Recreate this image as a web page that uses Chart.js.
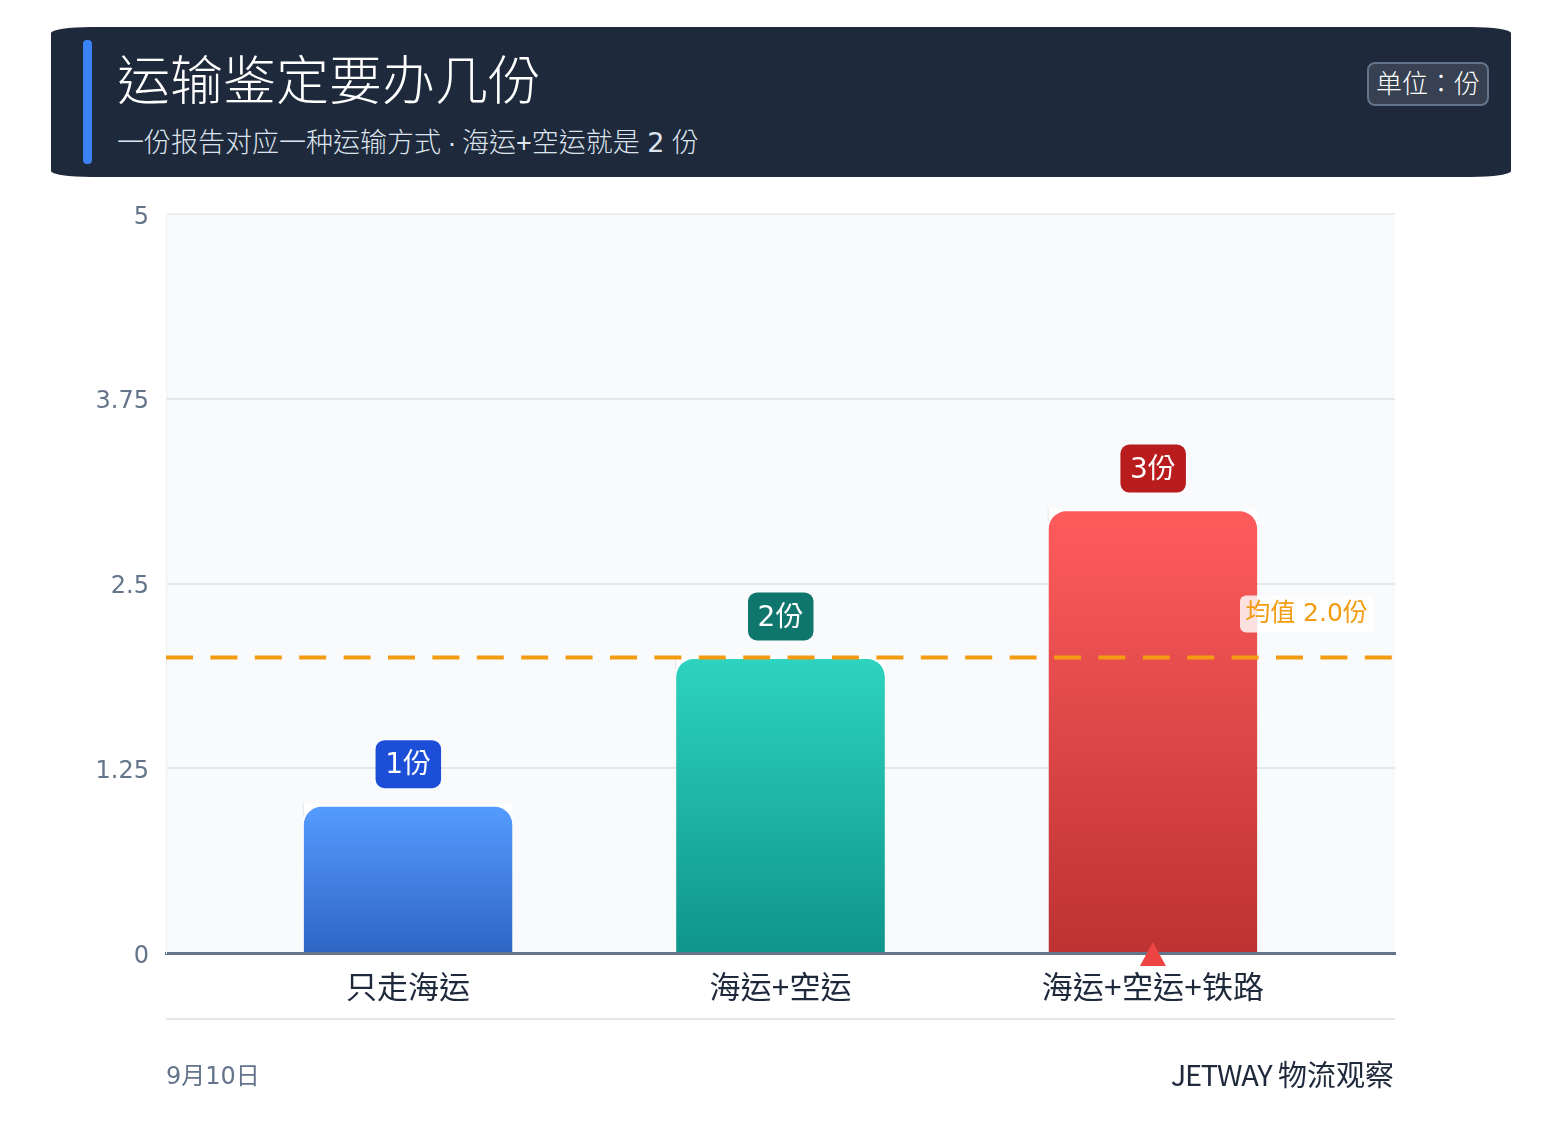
<!DOCTYPE html>
<html>
<head>
<meta charset="utf-8">
<script src="https://cdn.jsdelivr.net/npm/chart.js@4"></script>
<style>
  html, body { margin: 0; padding: 0; background: #fff; }
  body { width: 1561px; height: 1145px; position: relative; overflow: hidden;
         font-family: "Liberation Sans", "Noto Sans CJK TC", sans-serif; }
  canvas { position: absolute; left: 0; top: 0; }
  .header { position: absolute; left: 51px; top: 27px; width: 1460px; height: 150px;
            background: #1e293b; border-radius: 40px / 6px; }
  .accent { position: absolute; left: 32px; top: 13px; width: 9px; height: 124px;
            background: #3b82f6; border-radius: 4px; }
  .title { position: absolute; left: 66px; top: 17px; font-size: 53px; line-height: 76px; font-weight: 300;
           color: #fff; white-space: nowrap; }
  .subtitle { position: absolute; left: 66px; top: 97px; font-size: 27px; line-height: 38px; font-weight: 300;
              color: #dde4ee; white-space: nowrap; }
  .subtitle .sep { letter-spacing: -1px; }
  .subtitle .num { font-family: "DejaVu Sans", sans-serif; font-size: 27px; font-weight: 400; }
  .unit { position: absolute; left: 1316px; top: 35px; width: 118px; height: 40px; line-height: 40px;
          background: #374151; border: 2px solid #64748b; border-radius: 8px; font-weight: 300;
          color: #fff; font-size: 26px; text-align: center; white-space: nowrap; }
  .rule { position: absolute; left: 166px; top: 1018px; width: 1229px; height: 2px; background: #e5e7eb; }
  .date { position: absolute; left: 166px; top: 1058px; font-size: 24px; line-height: 36px; color: #64748b;
          font-family: "DejaVu Sans", "Noto Sans CJK TC", sans-serif; }
  .brand { position: absolute; right: 167px; top: 1054px; font-size: 29px; line-height: 38px; color: #1e293b;
           font-family: "Noto Sans CJK TC", sans-serif; }
  .brand span { letter-spacing: -1.2px; }
</style>
</head>
<body>
<canvas id="chart1" width="1561" height="1145"></canvas>
<div class="header">
  <div class="accent"></div>
  <div class="title">运输鉴定要办几份</div>
  <div class="subtitle">一份报告对应一种运输方式<span class="sep"> · </span>海运+空运就是 <span class="num">2</span> 份</div>
  <div class="unit">单位：份</div>
</div>
<div class="rule"></div>
<div class="date">9月10日</div>
<div class="brand"><span>JETWAY</span> 物流观察</div>
<script>
var categories = ['只走海运', '海运+空运', '海运+空运+铁路'];
var reportCounts = [1, 2, 3];
var pillLabels = ['1份', '2份', '3份'];
var yTicks = [0, 1.25, 2.5, 3.75, 5];
var meanValue = 2;
var meanLabel = '均值 2.0份';
var maxIndex = 2;

var xMin = -0.65;
var xMax = 2.65;
var barTops = ['#559bff', '#2dd4bf', '#ff5c5c'];
var barBottoms = ['#2f66c4', '#0f958a', '#bd3232'];
var pillColors = ['#1d4ed8', '#0f766e', '#b91c1c'];
var textFont = '"Liberation Sans", "Noto Sans CJK TC", sans-serif';
var digitFont = '"DejaVu Sans", "Noto Sans CJK TC", sans-serif';

function roundRect(c, x, y, w, h, r) {
    c.beginPath();
    c.roundRect(x, y, w, h, r);
}

// background of the plot, under the grid
var plotBackground = {
    id: 'plotBackground',
    beforeDraw: function(chart) {
        var a = chart.chartArea, c = chart.ctx;
        c.save();
        c.fillStyle = '#f8fafc';
        c.fillRect(a.left, a.top, a.right - a.left, a.bottom - a.top);
        c.restore();
    }
};

// pale strip behind the bar tops
var barBacking = {
    id: 'barBacking',
    beforeDatasetsDraw: function(chart) {
        var c = chart.ctx, bars = chart.getDatasetMeta(0).data;
        c.save();
        bars.forEach(function(b) {
            c.fillStyle = '#ffffff';
            c.fillRect(b.x - b.width / 2, b.y - 1, b.width, 20);
            c.fillStyle = '#e5e7eb';
            c.fillRect(b.x - b.width / 2 - 1, b.y - 2, 1, 14);
        });
        c.restore();
    }
};

// value pills, mean label and the red marker
var overlays = {
    id: 'overlays',
    afterDraw: function(chart) {
        var c = chart.ctx, bars = chart.getDatasetMeta(0).data;
        var yScale = chart.scales.y, a = chart.chartArea;
        c.save();
        c.textBaseline = 'middle';
        c.textAlign = 'center';
        bars.forEach(function(b, i) {
            c.fillStyle = pillColors[i];
            roundRect(c, b.x - 32.5, b.y - 65, 65.5, 48, 9);
            c.fill();
            c.fillStyle = '#ffffff';
            c.font = '28px ' + digitFont;
            c.fillText(pillLabels[i], b.x, b.y - 39);
        });

        var meanY = yScale.getPixelForValue(meanValue);
        c.fillStyle = 'rgba(255,255,255,0.82)';
        roundRect(c, 1240, meanY - 62, 134, 37, 6);
        c.fill();
        c.fillStyle = '#f39c12';
        c.font = '25px ' + digitFont;
        c.fillText(meanLabel, 1306.5, meanY - 43);

        var mx = bars[maxIndex].x;
        c.fillStyle = '#ef4444';
        c.beginPath();
        c.moveTo(mx, a.bottom - 11);
        c.lineTo(mx + 13, a.bottom + 13);
        c.lineTo(mx - 13, a.bottom + 13);
        c.closePath();
        c.fill();
        c.restore();
    }
};

function barGradient(context) {
    var chart = context.chart, i = context.dataIndex;
    if (!chart.chartArea || i === undefined) return barTops[0];
    var y = chart.scales.y;
    var g = chart.ctx.createLinearGradient(0, y.getPixelForValue(reportCounts[i]), 0, y.getPixelForValue(0));
    g.addColorStop(0, barTops[i]);
    g.addColorStop(1, barBottoms[i]);
    return g;
}

var ctx = document.getElementById('chart1').getContext('2d');
var myChart = new Chart(ctx, {
    type: 'bar',
    data: {
        datasets: [{
            type: 'bar',
            label: '份数',
            data: reportCounts.map(function(v, i) { return { x: i, y: v }; }),
            backgroundColor: barGradient,
            borderColor: 'rgba(255,255,255,0)',
            borderWidth: { top: 2, left: 0, right: 0, bottom: 0 },
            borderRadius: { topLeft: 20, topRight: 20, bottomLeft: 0, bottomRight: 0 },
            borderSkipped: false,
            barThickness: 208.6,
            order: 2
        }, {
            type: 'line',
            label: '均值',
            data: [{ x: xMin, y: meanValue }, { x: xMax, y: meanValue }],
            borderColor: '#f39c12',
            borderWidth: 4,
            borderDash: [27, 17.4],
            pointRadius: 0,
            order: 1
        }]
    },
    options: {
        responsive: false,
        animation: false,
        layout: { padding: { top: 214, left: 0, right: 166, bottom: 0 } },
        plugins: {
            legend: { display: false },
            tooltip: { enabled: false }
        },
        scales: {
            x: {
                type: 'linear',
                min: xMin,
                max: xMax,
                offset: false,
                z: 1,
                afterBuildTicks: function(scale) {
                    scale.ticks = categories.map(function(_, i) { return { value: i }; });
                },
                afterFit: function(scale) { scale.height = 1145 - 953; },
                grid: { display: false, drawTicks: false },
                border: { color: '#64748b', width: 3 },
                ticks: {
                    autoSkip: false,
                    maxRotation: 0,
                    padding: 18,
                    color: '#1e293b',
                    font: { size: 31, family: textFont },
                    callback: function(v) { return categories[v]; }
                }
            },
            y: {
                min: 0,
                max: 5,
                afterBuildTicks: function(scale) {
                    scale.ticks = yTicks.map(function(v) { return { value: v }; });
                },
                afterFit: function(scale) { scale.width = 166; },
                grid: {
                    color: function(c) { return c.tick && c.tick.value === 5 ? '#eef0f4' : '#e5e7eb'; },
                    lineWidth: 2,
                    drawTicks: false
                },
                border: { color: '#eef0f4', width: 1 },
                ticks: {
                    padding: 17,
                    labelOffset: 3.5,
                    color: '#64748b',
                    font: { size: 24, family: digitFont },
                    callback: function(v) { return String(v); }
                }
            }
        }
    },
    plugins: [plotBackground, barBacking, overlays]
});
</script>
</body>
</html>
